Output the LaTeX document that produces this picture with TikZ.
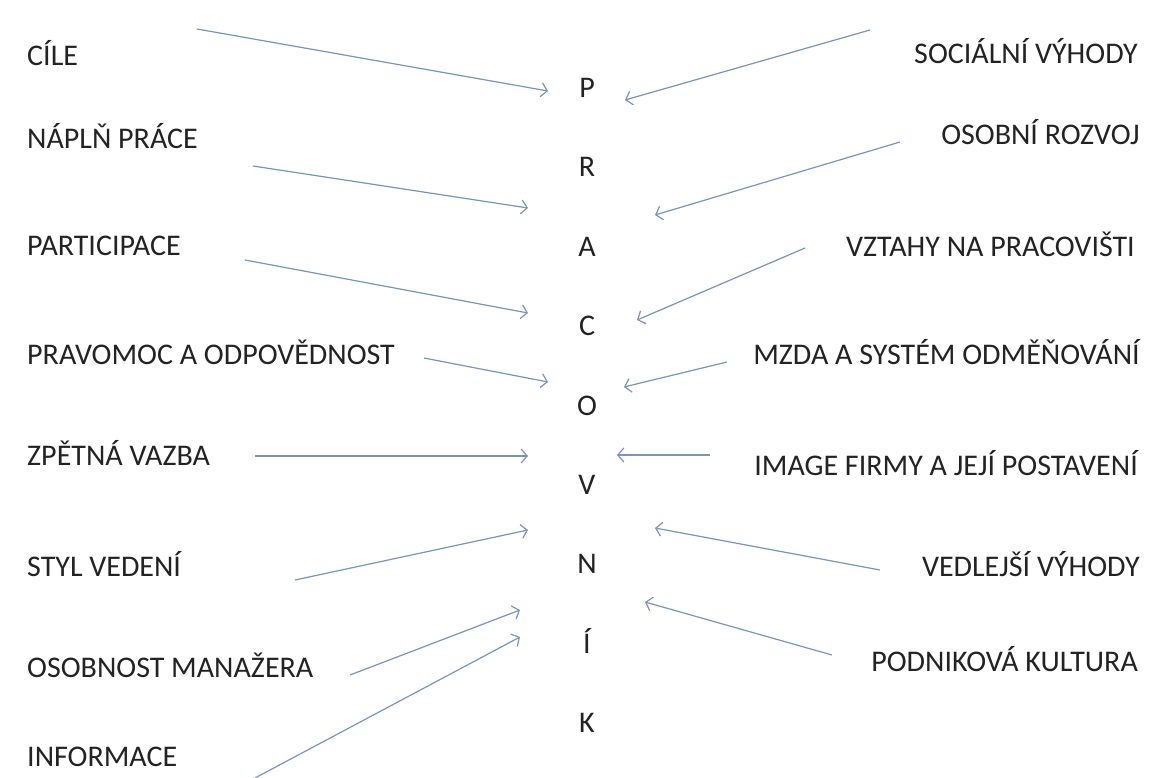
\documentclass[tikz,border=0pt]{standalone}
\usepackage{fontspec}
\setmainfont{Carlito}
\usetikzlibrary{positioning, arrows.meta}
\definecolor{linkblue}{RGB}{122,148,186}
\definecolor{textgray}{RGB}{35,35,35}

\begin{document}
\begin{tikzpicture}[x=1pt, y=-1pt, node distance={79.4pt}, font=\fontsize{30}{34}\selectfont, text=textgray]
                \tikzstyle{letter} = [inner sep=0pt, text height=19pt, text depth=0pt]
                \tikzstyle{lbl} = [inner sep=0pt, anchor=base west]
                \tikzstyle{rbl} = [inner sep=0pt, anchor=base east]
                \tikzstyle{link} = [draw=linkblue, line width=1.2pt, -{Straight Barb[length=6pt, width=14pt]}]

                \useasboundingbox[fill=white] (0,0) rectangle (1165,778);

                % Letters (middle column)
                \node[letter] (kP) at (587,88) {P};
                \node[letter] (kR) [below of=kP] {R};
                \node[letter] (kA) [below of=kR] {A};
                \node[letter] (kC) [below of=kA] {C};
                \node[letter] (kO) [below of=kC] {O};
                \node[letter] (kV) [below of=kO] {V};
                \node[letter] (kN) [below of=kV] {N};
                \node[letter] (kI) [below of=kN] {Í};
                \node[letter] (kK) [below of=kI] {K};

                % Labels (left column)
                \node[lbl] (cile) at (27,66) {CÍLE};
                \node[lbl] (napln) at (27,149) {NÁPLŇ PRÁCE};
                \node[lbl] (partic) at (27,255) {PARTICIPACE};
                \node[lbl] (pravomoc) at (27,364) {PRAVOMOC A ODPOVĚDNOST};
                \node[lbl] (zpetna) at (27,465) {ZPĚTNÁ VAZBA};
                \node[lbl] (styl) at (27,576) {STYL VEDENÍ};
                \node[lbl] (osobnost) at (27,677) {OSOBNOST MANAŽERA};
                \node[lbl] (info) at (27,766) {INFORMACE};

                % Labels (right column)
                \node[rbl] (socialni) at (1138,64) {SOCIÁLNÍ VÝHODY};
                \node[rbl] (rozvoj) at (1140,145) {OSOBNÍ ROZVOJ};
                \node[rbl] (vztahy) at (1135,257) {VZTAHY NA PRACOVIŠTI};
                \node[rbl] (mzda) at (1140,364) {MZDA A SYSTÉM ODMĚŇOVÁNÍ};
                \node[rbl] (image) at (1138,475) {IMAGE FIRMY A JEJÍ POSTAVENÍ};
                \node[rbl] (vedlejsi) at (1140,576) {VEDLEJŠÍ VÝHODY};
                \node[rbl] (kultura) at (1138,671) {PODNIKOVÁ KULTURA};

                % Arrow ends (left side)
                \coordinate (ls1) at (197,29);  \coordinate (le1) at (548,91);
                \coordinate (ls2) at (253,166); \coordinate (le2) at (528,208);
                \coordinate (ls3) at (245,260); \coordinate (le3) at (528,313);
                \coordinate (ls4) at (424,358); \coordinate (le4) at (548,382);
                \coordinate (ls5) at (255,456); \coordinate (le5) at (528,456);
                \coordinate (ls6) at (295,580); \coordinate (le6) at (528,530);
                \coordinate (ls7) at (350,675); \coordinate (le7) at (520,610);
                \coordinate (ls8) at (255,778); \coordinate (le8) at (520,637);

                % Arrow ends (right side)
                \coordinate (rs1) at (870,30);  \coordinate (re1) at (625,100);
                \coordinate (rs2) at (900,142); \coordinate (re2) at (655,215);
                \coordinate (rs3) at (805,248); \coordinate (re3) at (637,320);
                \coordinate (rs4) at (727,362); \coordinate (re4) at (624,387);
                \coordinate (rs5) at (710,455); \coordinate (re5) at (617,455);
                \coordinate (rs6) at (880,570); \coordinate (re6) at (655,528);
                \coordinate (rs7) at (832,655); \coordinate (re7) at (645,602);

                \draw[link] (ls1) -- (le1);
                \draw[link] (ls2) -- (le2);
                \draw[link] (ls3) -- (le3);
                \draw[link] (ls4) -- (le4);
                \draw[link] (ls5) -- (le5);
                \draw[link] (ls6) -- (le6);
                \draw[link] (ls7) -- (le7);
                \draw[link] (ls8) -- (le8);
                \draw[link] (rs1) -- (re1);
                \draw[link] (rs2) -- (re2);
                \draw[link] (rs3) -- (re3);
                \draw[link] (rs4) -- (re4);
                \draw[link] (rs5) -- (re5);
                \draw[link] (rs6) -- (re6);
                \draw[link] (rs7) -- (re7);
            \end{tikzpicture}
\end{document}
